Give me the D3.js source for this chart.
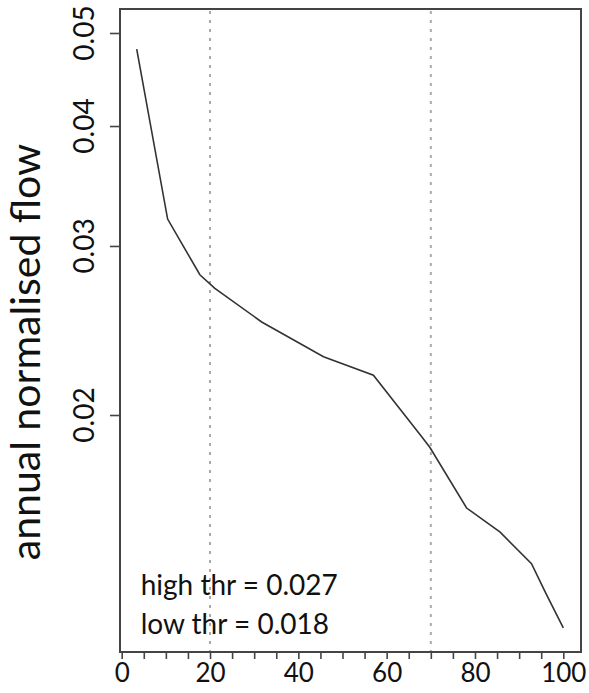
<!DOCTYPE html>
<html lang="en">
<meta charset="utf-8">
<script src="https://d3js.org/d3.v7.min.js"></script>
<style>
  body { margin: 0; background: #fff; }
  text { font-family: Lato, "Open Sans", sans-serif; fill: #111; }
</style>
<div id="my_dataviz"></div>
<script>

  // duration curve (percent exceeded vs normalised flow)
  var percent = [3.4, 10.4, 17.7, 21.1, 31.7, 45.7, 57.0, 67.9, 69.8, 78.1, 85.7, 92.8, 96.2, 100];
  var flow = [0.0481, 0.0320, 0.0280, 0.0271, 0.0250, 0.0230, 0.0220, 0.0190, 0.0185, 0.0160, 0.0151, 0.0140, 0.0130, 0.0120];

  var xTicks = [0, 5, 10, 15, 20, 25, 30, 35, 40, 45, 50, 55, 60, 65, 70, 75, 80, 85, 90, 95, 100];
  var yTicks = [0.02, 0.03, 0.04, 0.05];
  var thresholdPct = [20, 70];
  var labels = ["high thr = 0.027", "low thr = 0.018"];
  var yTitle = "annual normalised flow";

  var width = 589, height = 693;
  var box = {left: 120, top: 9, right: 581, bottom: 652};

  var svg = d3.select("#my_dataviz")
    .append("svg")
      .attr("width", width)
      .attr("height", height);

  var x = d3.scaleLinear()
    .domain([0, 100])
    .range([121.7, 563.3]);

  var y = d3.scaleLog()
    .domain([0.02, 0.05])
    .range([415, 33]);

  // threshold lines
  svg.selectAll(".thr")
    .data(thresholdPct)
    .enter()
    .append("line")
      .attr("x1", function(d) { return x(d); })
      .attr("x2", function(d) { return x(d); })
      .attr("y1", box.top + 2)
      .attr("y2", box.bottom)
      .style("stroke", "#aaa")
      .style("stroke-width", 2)
      .style("stroke-dasharray", "3,6");

  // the curve
  var line = d3.line()
    .x(function(d, i) { return x(percent[i]); })
    .y(function(d) { return y(d); });

  svg.append("path")
    .datum(flow)
    .attr("d", line)
    .style("fill", "none")
    .style("stroke", "#333")
    .style("stroke-width", 1.6);

  // box round the plot
  svg.append("rect")
    .attr("x", box.left)
    .attr("y", box.top)
    .attr("width", box.right - box.left)
    .attr("height", box.bottom - box.top)
    .style("fill", "none")
    .style("stroke", "#444")
    .style("stroke-width", 2);

  // x axis
  var xAxis = svg.append("g")
    .attr("transform", "translate(0," + box.bottom + ")")
    .call(d3.axisBottom(x)
      .tickValues(xTicks)
      .tickSize(7)
      .tickFormat(function(d) { return d % 20 === 0 ? d : ""; }));
  xAxis.select(".domain").remove();
  xAxis.selectAll("line").style("stroke", "#444").style("stroke-width", 1.6);
  xAxis.selectAll("text")
    .attr("y", 30)
    .attr("dy", 0)
    .style("font-size", "26px")
    .style("font-family", "Lato, sans-serif")
    .style("fill", "#111");

  // y axis ticks
  var yAxis = svg.append("g")
    .attr("transform", "translate(" + box.left + ",0)")
    .call(d3.axisLeft(y).tickValues(yTicks).tickSize(10).tickFormat(""));
  yAxis.select(".domain").remove();
  yAxis.selectAll("line").style("stroke", "#444").style("stroke-width", 1.6);

  svg.selectAll(".ylab")
    .data(yTicks)
    .enter()
    .append("text")
      .attr("transform", function(d) { return "translate(94," + y(d) + ") rotate(-90)"; })
      .attr("text-anchor", "middle")
      .style("font-size", "28px")
      .text(function(d) { return d3.format(".2f")(d); });

  // y title
  svg.append("text")
    .attr("transform", "translate(40,352) rotate(-90)")
    .attr("text-anchor", "middle")
    .style("font-size", "41px")
    .text(yTitle);

  // threshold notes
  svg.selectAll(".note")
    .data(labels)
    .enter()
    .append("text")
      .attr("x", 140.7)
      .attr("y", function(d, i) { return 595 + i * 39; })
      .style("font-size", "28px")
      .text(function(d) { return d; });

</script>
</html>
